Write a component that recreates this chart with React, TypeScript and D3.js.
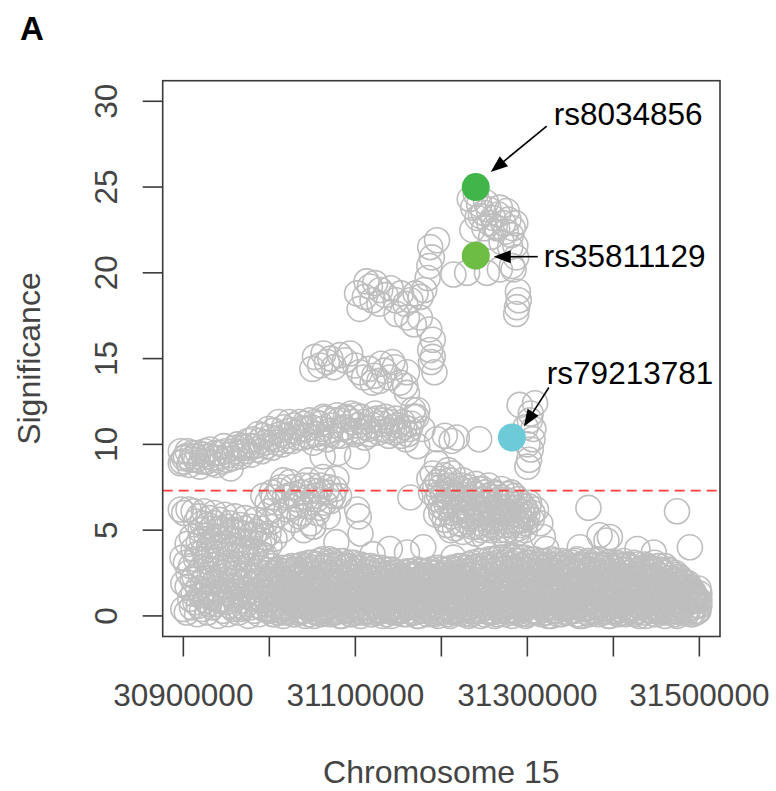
import React from "react";
import * as d3 from "d3";

// ---------- axis ticks ----------
const xTicks = [30900000, 31000000, 31100000, 31200000, 31300000, 31400000, 31500000];
const xTickLabels = ["30900000", "", "31100000", "", "31300000", "", "31500000"];
const yTicks = [0, 5, 10, 15, 20, 25, 30];
const yTickLabels = ["0", "5", "10", "15", "20", "25", "30"];
const thresholdSig = 7.3;
const xTitle = "Chromosome 15";
const yTitle = "Significance";
const panelLabel = "A";

// ---------- SNPs: [position (kb), significance] ----------
type SNP = [number, number];

const upperBandSNPs: SNP[] = [
  [30897, 9.6], [30897, 8.9], [30899, 9.0], [30903, 9.3], [30907, 8.8], [30911, 9.5], [30915, 9.1], [30919, 8.7],
  [30923, 9.4], [30927, 9.0], [30931, 9.7], [30935, 9.2], [30939, 8.8], [30943, 9.5], [30947, 9.9], [30951, 9.1],
  [30955, 8.6], [30959, 9.6], [30963, 10.0], [30967, 9.3], [30971, 9.8], [30975, 10.2], [30979, 9.4], [30983, 9.9],
  [30987, 10.6], [30991, 9.6], [30995, 10.1], [30999, 10.9], [31003, 9.8], [31007, 10.3], [31011, 11.3], [31015, 10.0],
  [31019, 10.5], [31023, 11.3], [31027, 10.2], [31031, 10.7], [31035, 11.3], [31039, 10.4], [31043, 10.9], [31047, 11.4],
  [31051, 10.1], [31055, 10.6], [31059, 11.2], [31063, 11.6], [31067, 10.3], [31071, 10.8], [31075, 11.4], [31079, 11.7],
  [31083, 10.5], [31087, 11.0], [31091, 11.5], [31095, 11.8], [31099, 10.6], [31103, 11.1], [31107, 11.6], [31111, 10.4],
  [31115, 10.9], [31119, 11.4], [31123, 11.8], [31127, 10.7], [31131, 11.2], [31135, 11.6], [31139, 10.5], [31143, 11.0],
  [31147, 11.5], [31151, 10.8], [31155, 11.3], [31159, 10.3], [31163, 10.9], [31167, 12.0], [31171, 11.6], [31178, 10.9],
  [31172, 9.9], [31062, 9.3], [31102, 9.3], [31080, 9.5],
];

const upperBand2SNPs: SNP[] = [
  [30901, 9.2], [30905, 9.6], [30909, 9.1], [30913, 9.3], [30917, 9.5], [30921, 9.0], [30925, 9.6], [30929, 9.3],
  [30933, 8.9], [30937, 9.5], [30941, 9.2], [30945, 9.0], [30949, 9.6], [30953, 9.4], [30957, 9.2], [30961, 9.8],
  [30965, 9.5], [30969, 9.9], [30973, 9.6], [30977, 9.9], [30981, 10.3], [30985, 9.7], [30989, 10.2], [30993, 10.5],
  [30997, 9.9], [31001, 10.4], [31005, 10.8], [31009, 10.1], [31013, 10.6], [31017, 11.0], [31021, 10.2], [31025, 10.8],
  [31029, 11.1], [31033, 10.4], [31037, 10.9], [31041, 11.2], [31045, 10.5], [31049, 11.0], [31053, 11.3], [31057, 10.4],
  [31061, 10.9], [31065, 11.5], [31069, 10.6], [31073, 11.1], [31077, 10.5], [31081, 11.4], [31085, 10.9], [31089, 11.6],
  [31093, 10.8], [31097, 11.3], [31101, 11.7], [31105, 10.8], [31109, 11.3], [31113, 11.0], [31117, 10.6], [31121, 11.1],
  [31125, 11.5], [31129, 10.9], [31133, 11.4], [31137, 10.8], [31141, 11.3], [31145, 10.7], [31149, 11.1], [31153, 10.5],
  [31157, 11.0], [31161, 10.6], [31165, 11.2],
];

const mid15SNPs: SNP[] = [
  [31053, 15.1], [31059, 14.6], [31063, 15.3], [31067, 14.8], [31071, 15.0], [31050, 14.4], [31075, 14.5], [31082, 15.2],
  [31088, 14.9], [31094, 15.3], [31100, 14.6], [31105, 14.2], [31110, 13.9], [31116, 14.4], [31122, 14.0], [31128, 13.7],
  [31134, 14.3], [31140, 13.9], [31146, 14.5], [31152, 13.6], [31158, 13.4], [31143, 14.8], [31130, 14.7], [31120, 13.6],
];

const columnSNPs: SNP[] = [
  [31187, 21.5], [31189, 20.9], [31186, 20.4], [31184, 19.7], [31180, 19.0], [31176, 18.6], [31170, 18.8], [31175, 17.4],
  [31186, 16.7], [31190, 16.1], [31187, 15.5], [31190, 15.1], [31188, 14.8], [31192, 14.2], [31160, 14.2], [31160, 13.0],
  [31172, 12.0], [31168, 11.6], [31195, 21.9],
];

const sClusterSNPs: SNP[] = [
  [31102, 18.8], [31105, 17.9], [31111, 18.6], [31117, 19.2], [31123, 19.4], [31129, 19.0], [31120, 18.4], [31135, 18.7],
  [31141, 19.1], [31147, 18.4], [31153, 18.8], [31158, 18.2], [31164, 18.4], [31113, 19.5], [31128, 18.2], [31148, 17.6],
  [31160, 17.4], [31168, 17.0],
];

const peakSNPs: SNP[] = [
  [31233, 24.3], [31237, 23.8], [31244, 24.0], [31249, 23.5], [31255, 23.7], [31260, 23.2], [31266, 23.4], [31272, 22.9],
  [31278, 23.1], [31283, 22.6], [31275, 22.4], [31265, 22.6], [31256, 22.9], [31246, 23.3], [31236, 22.5], [31258, 22.1],
  [31270, 21.8], [31280, 21.5], [31286, 21.6], [31287, 20.9], [31282, 20.4], [31289, 18.9], [31290, 18.4], [31288, 18.0],
  [31287, 17.6], [31214, 19.9], [31230, 20.0], [31253, 20.0], [31268, 20.2], [31284, 20.2], [31240, 24.6],
  [31242, 23.2], [31252, 24.1], [31262, 22.7], [31268, 23.8], [31276, 23.6], [31281, 22.2], [31250, 22.6], [31286, 22.9],
];

const mid10SNPs: SNP[] = [
  [31195, 10.3], [31204, 10.5], [31212, 10.2], [31218, 10.4], [31244, 10.3], [31195, 8.9], [31208, 8.5],
  [31291, 12.3], [31309, 12.4], [31304, 11.8], [31307, 10.9], [31303, 11.4], [31306, 10.3], [31304, 9.7], [31302, 9.1],
  [31300, 8.7], [31298, 11.0], [31300, 10.0],
];

const thresholdRightSNPs: SNP[] = [
  [31190, 8.3], [31196, 7.8], [31203, 8.2], [31210, 7.9], [31217, 7.6], [31225, 7.9], [31232, 7.5], [31240, 7.7],
  [31248, 7.4], [31255, 7.6], [31262, 7.2], [31270, 7.4], [31278, 7.1], [31285, 7.0], [31292, 6.6], [31188, 7.2],
  [31195, 6.8], [31202, 7.1], [31210, 6.6], [31218, 7.0], [31226, 6.4], [31234, 6.9], [31242, 6.3], [31250, 6.8],
  [31258, 6.2], [31266, 6.7], [31274, 6.1], [31282, 6.5], [31290, 5.9], [31298, 6.2], [31212, 5.8], [31220, 5.4],
  [31228, 5.9], [31236, 5.2], [31244, 5.7], [31252, 5.1], [31260, 5.6], [31268, 5.0], [31276, 5.5], [31284, 5.0],
  [31292, 5.3], [31200, 6.0], [31240, 4.8], [31272, 4.7], [31194, 5.9], [31310, 6.2], [31205, 7.3], [31215, 6.9],
  [31223, 7.4], [31231, 6.2], [31239, 7.1], [31246, 6.0], [31254, 7.0], [31262, 5.9], [31270, 6.9], [31278, 5.8],
  [31286, 6.3], [31294, 5.6], [31300, 5.9], [31207, 5.3], [31217, 6.2], [31229, 5.5], [31245, 5.4], [31257, 5.3],
  [31265, 6.4], [31281, 5.3], [31297, 5.0], [31305, 5.6], [31225, 4.9], [31250, 4.6], [31288, 4.8],
  [31199, 7.5], [31206, 6.5], [31213, 7.2], [31221, 6.1], [31227, 6.8], [31235, 7.3], [31241, 5.9], [31249, 6.5],
  [31256, 5.7], [31263, 6.9], [31271, 6.3], [31279, 6.7], [31287, 5.6], [31295, 6.4], [31302, 6.6], [31204, 5.6],
  [31216, 5.1], [31233, 5.7], [31247, 5.0], [31261, 5.2], [31276, 5.0], [31289, 5.5], [31208, 6.9], [31222, 7.1],
  [31237, 6.6], [31253, 6.0], [31268, 6.1], [31283, 5.9], [31298, 5.4], [31193, 7.6], [31200, 8.0], [31213, 8.3],
  [31186, 8.0],
  [31197, 7.1], [31203, 6.3], [31209, 7.6], [31214, 6.0], [31219, 6.6], [31224, 7.6], [31230, 6.9], [31234, 5.8],
  [31238, 6.4], [31243, 7.4], [31247, 6.2], [31251, 7.2], [31255, 6.5], [31259, 5.5], [31264, 7.1], [31267, 5.7],
  [31273, 6.6], [31277, 6.0], [31281, 7.2], [31285, 5.5], [31289, 6.8], [31293, 6.1], [31296, 5.8], [31301, 6.4],
  [31306, 6.0], [31226, 5.3], [31242, 5.2], [31258, 5.0], [31274, 5.3], [31290, 5.1], [31211, 5.0], [31199, 6.4],
];

const thresholdLeftSNPs: SNP[] = [
  [31003, 7.2], [31008, 6.6], [31013, 7.5], [31018, 6.9], [31024, 7.8], [31029, 7.1], [31034, 6.5], [31039, 7.6],
  [31045, 7.9], [31050, 7.3], [31055, 6.8], [31060, 7.6], [31066, 7.2], [31071, 6.7], [31076, 7.4], [31081, 7.0],
  [31010, 5.9], [31020, 6.2], [31028, 5.6], [31038, 6.0], [31048, 5.4], [31058, 6.3], [31068, 5.8], [31000, 6.1],
  [30993, 7.0], [31015, 5.0], [31040, 5.0], [31051, 5.2], [31078, 8.0], [31062, 8.1],
  [31005, 6.9], [31011, 7.3], [31016, 7.9], [31022, 7.0], [31027, 7.5], [31032, 6.8], [31037, 7.2], [31043, 6.9],
  [31048, 7.6], [31053, 7.0], [31058, 7.3], [31064, 6.6], [31069, 7.5], [31074, 7.0], [30998, 6.6], [31003, 5.5],
  [31025, 6.4], [31035, 5.8], [31045, 6.4], [31056, 6.0],
];

const leftLowSNPs: SNP[] = [
  [30897, 6.2], [30901, 6.0], [30906, 6.2], [30912, 6.1], [30918, 5.8], [30924, 6.1], [30930, 5.7], [30936, 6.0],
  [30942, 5.6], [30948, 5.9], [30954, 5.4], [30960, 5.8], [30966, 5.3], [30972, 5.7], [30978, 5.2], [30984, 5.6],
  [30990, 5.1], [30996, 5.5],
  [30920, 5.0], [30927, 4.7], [30933, 5.1], [30940, 4.6], [30946, 5.0], [30952, 4.5], [30958, 4.9], [30964, 4.4],
  [30970, 4.8], [30976, 4.3], [30982, 4.7], [30988, 4.2], [30994, 4.6], [31000, 4.1], [31006, 4.5],
  [30905, 4.2], [30912, 3.9], [30918, 4.3], [30924, 3.8], [30930, 4.1], [30936, 3.6], [30942, 4.0], [30948, 3.5],
  [30955, 3.9], [30961, 3.4], [30967, 3.8], [30973, 3.3], [30979, 3.7], [30985, 3.2], [30991, 3.6], [30997, 3.1],
  [30899, 3.4], [30903, 3.1], [30909, 2.9], [30915, 3.3], [30921, 2.8], [30927, 3.2], [30933, 2.7], [30939, 3.0],
  [30945, 2.5], [30951, 2.9], [30957, 2.4], [30963, 2.8], [30969, 2.3], [30975, 2.7], [30981, 2.2], [30987, 2.6],
  [30993, 2.1], [30999, 2.5],
  [30900, 1.9], [30905, 1.7], [30911, 2.1], [30917, 1.6], [30923, 2.0], [30929, 1.5], [30935, 1.9], [30941, 1.4],
  [30947, 1.8], [30953, 1.3], [30959, 1.7], [30965, 1.2], [30971, 1.6], [30977, 1.1], [30983, 1.5], [30989, 1.0],
  [30995, 1.4],
  [30908, 1.0], [30914, 0.8], [30920, 1.2], [30926, 0.9], [30932, 1.1], [30938, 0.7], [30944, 1.0], [30950, 0.8],
  [30956, 1.2], [30962, 0.6], [30968, 0.9], [30974, 0.7], [30980, 1.1], [30986, 0.6], [30992, 0.9], [30998, 0.7],
  [30900, 0.4], [30904, 0.2], [30910, 0.5], [30916, 0.1], [30922, 0.4], [30928, 0.2], [30934, 0.5], [30940, 0.0],
  [30946, 0.3], [30952, 0.1], [30958, 0.4], [30964, 0.2], [30970, 0.5], [30976, 0.0], [30982, 0.3], [30988, 0.1],
  [30994, 0.4],
];

const leftLow2SNPs: SNP[] = [
  [30915, 5.5], [30922, 5.4], [30929, 5.3], [30936, 5.4], [30943, 5.1], [30950, 5.2], [30957, 5.0], [30964, 4.9],
  [30971, 5.1], [30978, 4.7], [30985, 4.9], [30992, 4.4], [30999, 4.8],
  [30910, 4.6], [30916, 3.6], [30922, 4.5], [30928, 3.5], [30935, 4.4], [30941, 3.3], [30947, 4.2], [30953, 3.1],
  [30959, 4.1], [30965, 3.0], [30971, 3.9], [30977, 2.9], [30983, 3.8], [30989, 2.8], [30995, 3.5],
  [30906, 2.5], [30913, 2.3], [30919, 2.6], [30925, 2.2], [30931, 2.4], [30937, 2.0], [30943, 2.3], [30949, 2.1],
  [30955, 2.0], [30961, 2.2], [30967, 1.9], [30973, 2.0], [30979, 1.8], [30985, 1.9], [30991, 1.7], [30997, 1.9],
  [30912, 1.3], [30918, 0.6], [30924, 1.4], [30930, 0.7], [30936, 1.3], [30942, 0.9], [30948, 1.4], [30954, 0.6],
  [30960, 1.0], [30966, 0.4], [30972, 1.2], [30978, 0.5], [30984, 1.0], [30990, 0.5], [30996, 1.1],
];

const strayLowSNPs: SNP[] = [
  [31078, 4.3], [31102, 6.2], [31104, 5.8], [31106, 4.8], [31140, 3.9], [31164, 6.9], [31179, 4.0], [31214, 3.4],
  [31322, 3.9], [31361, 4.0], [31371, 6.3], [31384, 4.7], [31392, 4.4], [31396, 4.6], [31428, 3.9], [31447, 3.7],
  [31474, 6.1], [31489, 4.0], [31315, 5.4], [31318, 4.6], [31051, 5.2], [31120, 3.6], [31160, 3.7],
];

const baseRowA: SNP[] = [
  [31000, 0.3], [31006, 0.1], [31012, 0.4], [31018, 0.2], [31024, 0.5], [31030, 0.1], [31036, 0.3], [31042, 0.0],
  [31048, 0.4], [31054, 0.2], [31060, 0.1], [31066, 0.5], [31072, 0.2], [31078, 0.3], [31084, 0.0], [31090, 0.4],
  [31096, 0.1], [31102, 0.3], [31108, 0.2], [31114, 0.5], [31120, 0.1], [31126, 0.3], [31132, 0.0], [31138, 0.4],
  [31144, 0.2], [31150, 0.3], [31156, 0.1], [31162, 0.5], [31168, 0.2], [31174, 0.0], [31180, 0.3], [31186, 0.4],
  [31192, 0.1], [31198, 0.2], [31204, 0.5], [31210, 0.0], [31216, 0.3], [31222, 0.2], [31228, 0.4], [31234, 0.1],
  [31240, 0.3], [31246, 0.0], [31252, 0.5], [31258, 0.2], [31264, 0.1], [31270, 0.4], [31276, 0.3], [31282, 0.0],
  [31288, 0.2], [31294, 0.5], [31300, 0.1], [31306, 0.3], [31312, 0.2], [31318, 0.4], [31324, 0.0], [31330, 0.3],
  [31336, 0.1], [31342, 0.5], [31348, 0.2], [31354, 0.3], [31360, 0.0], [31366, 0.4], [31372, 0.1], [31378, 0.2],
  [31384, 0.5], [31390, 0.3], [31396, 0.0], [31402, 0.2], [31408, 0.4], [31414, 0.1], [31420, 0.3], [31426, 0.2],
  [31432, 0.5], [31438, 0.0], [31444, 0.3], [31450, 0.1], [31456, 0.4], [31462, 0.2], [31468, 0.3], [31474, 0.0],
  [31480, 0.5], [31486, 0.2], [31492, 0.1], [31498, 0.3], [31500, 0.6],
];

const baseRowB: SNP[] = [
  [31003, 1.0], [31009, 0.8], [31015, 1.3], [31021, 0.9], [31027, 1.2], [31033, 0.7], [31039, 1.1], [31045, 1.4],
  [31051, 0.9], [31057, 1.2], [31063, 0.8], [31069, 1.3], [31075, 1.0], [31081, 0.7], [31087, 1.2], [31093, 1.4],
  [31099, 0.9], [31105, 1.1], [31111, 0.8], [31117, 1.3], [31123, 1.0], [31129, 0.7], [31135, 1.2], [31141, 0.9],
  [31147, 1.4], [31153, 1.0], [31159, 0.8], [31165, 1.2], [31171, 1.1], [31177, 0.7], [31183, 1.3], [31189, 0.9],
  [31195, 1.2], [31201, 0.8], [31207, 1.0], [31213, 1.4], [31219, 0.9], [31225, 1.1], [31231, 0.7], [31237, 1.3],
  [31243, 1.0], [31249, 1.2], [31255, 0.8], [31261, 1.4], [31267, 0.9], [31273, 1.1], [31279, 1.3], [31285, 0.8],
  [31291, 1.0], [31297, 1.2], [31303, 0.7], [31309, 1.3], [31315, 1.0], [31321, 0.9], [31327, 1.4], [31333, 1.1],
  [31339, 0.8], [31345, 1.2], [31351, 1.0], [31357, 1.3], [31363, 0.7], [31369, 1.1], [31375, 0.9], [31381, 1.4],
  [31387, 1.0], [31393, 1.2], [31399, 0.8], [31405, 1.3], [31411, 1.0], [31417, 0.9], [31423, 1.2], [31429, 1.4],
  [31435, 0.8], [31441, 1.1], [31447, 1.0], [31453, 1.3], [31459, 0.7], [31465, 1.2], [31471, 0.9], [31477, 1.1],
  [31483, 1.3], [31489, 0.8], [31495, 1.0], [31500, 1.3],
];

const baseRowC: SNP[] = [
  [31001, 1.8], [31007, 2.1], [31013, 1.6], [31019, 2.0], [31025, 1.7], [31031, 2.2], [31037, 1.9], [31043, 1.6],
  [31049, 2.1], [31055, 1.8], [31061, 2.3], [31067, 1.7], [31073, 2.0], [31079, 1.9], [31085, 2.2], [31091, 1.6],
  [31097, 2.0], [31103, 1.8], [31109, 2.1], [31115, 1.7], [31121, 1.9], [31127, 2.2], [31133, 1.6], [31139, 2.0],
  [31145, 1.8], [31151, 1.7], [31157, 2.1], [31163, 1.9], [31169, 1.6], [31175, 2.0], [31181, 1.8], [31187, 2.2],
  [31193, 1.7], [31199, 1.9], [31205, 2.1], [31211, 1.6], [31217, 2.0], [31223, 1.8], [31229, 2.2], [31235, 1.9],
  [31241, 1.7], [31247, 2.1], [31253, 1.8], [31259, 2.3], [31265, 1.6], [31271, 2.0], [31277, 1.9], [31283, 2.2],
  [31289, 1.7], [31295, 2.1], [31301, 1.8], [31307, 2.0], [31313, 1.6], [31319, 2.2], [31325, 1.9], [31331, 1.7],
  [31337, 2.1], [31343, 1.8], [31349, 2.3], [31355, 1.6], [31361, 2.0], [31367, 1.9], [31373, 2.2], [31379, 1.7],
  [31385, 2.1], [31391, 1.8], [31397, 2.0], [31403, 1.6], [31409, 2.2], [31415, 1.9], [31421, 1.7], [31427, 2.1],
  [31433, 1.8], [31439, 2.0], [31445, 1.6], [31451, 2.2], [31457, 1.9], [31463, 1.7], [31469, 2.0], [31475, 1.8],
  [31481, 1.6], [31487, 1.9], [31493, 1.4], [31499, 1.6],
];

const baseRowD: SNP[] = [
  [31004, 2.5], [31010, 2.7], [31016, 2.4], [31022, 2.8], [31028, 2.6], [31034, 2.9], [31040, 2.7], [31046, 3.1],
  [31052, 2.8], [31058, 3.2], [31064, 2.9], [31070, 3.3], [31076, 3.0], [31082, 3.2], [31088, 2.9], [31094, 3.1],
  [31100, 2.8], [31106, 3.0], [31112, 2.6], [31118, 2.9], [31124, 2.5], [31130, 2.8], [31136, 2.4], [31142, 2.7],
  [31148, 2.5], [31154, 2.3], [31160, 2.6], [31166, 2.4], [31172, 2.7], [31178, 2.3], [31184, 2.6], [31190, 2.5],
  [31196, 2.8], [31202, 2.4], [31208, 2.7], [31214, 2.5], [31220, 2.9], [31226, 2.6], [31232, 3.0], [31238, 2.8],
  [31244, 3.2], [31250, 2.9], [31256, 3.3], [31262, 3.0], [31268, 3.4], [31274, 3.1], [31280, 3.5], [31286, 3.2],
  [31292, 3.4], [31298, 3.1], [31304, 3.3], [31310, 3.0], [31316, 3.2], [31322, 2.9], [31328, 3.3], [31334, 3.0],
  [31340, 3.2], [31346, 2.8], [31352, 3.1], [31358, 3.3], [31364, 2.9], [31370, 3.2], [31376, 3.0], [31382, 3.3],
  [31388, 2.9], [31394, 3.1], [31400, 2.8], [31406, 3.0], [31412, 3.2], [31418, 2.9], [31424, 3.1], [31430, 2.7],
  [31436, 3.0], [31442, 2.8], [31448, 3.1], [31454, 2.7], [31460, 2.9], [31466, 2.6], [31472, 2.5], [31478, 2.2],
  [31484, 1.9], [31490, 1.6], [31496, 1.1],
];

const baseRowE: SNP[] = [
  [31005, 0.6], [31011, 0.8], [31017, 0.5], [31023, 0.9], [31029, 0.7], [31035, 0.6], [31041, 0.9], [31047, 0.5],
  [31053, 0.8], [31059, 0.7], [31065, 0.9], [31071, 0.6], [31077, 0.8], [31083, 0.5], [31089, 0.7], [31095, 0.9],
  [31101, 0.6], [31107, 0.8], [31113, 0.5], [31119, 0.7], [31125, 0.8], [31131, 0.6], [31137, 0.9], [31143, 0.5],
  [31149, 0.7], [31155, 0.8], [31161, 0.6], [31167, 0.9], [31173, 0.5], [31179, 0.8], [31185, 0.7], [31191, 0.6],
  [31197, 0.9], [31203, 0.5], [31209, 0.8], [31215, 0.7], [31221, 0.6], [31227, 0.9], [31233, 0.5], [31239, 0.8],
  [31245, 0.7], [31251, 0.9], [31257, 0.6], [31263, 0.8], [31269, 0.5], [31275, 0.7], [31281, 0.9], [31287, 0.6],
  [31293, 0.8], [31299, 0.5], [31305, 0.7], [31311, 0.9], [31317, 0.6], [31323, 0.8], [31329, 0.5], [31335, 0.7],
  [31341, 0.9], [31347, 0.6], [31353, 0.8], [31359, 0.5], [31365, 0.7], [31371, 0.9], [31377, 0.6], [31383, 0.8],
  [31389, 0.5], [31395, 0.7], [31401, 0.9], [31407, 0.6], [31413, 0.8], [31419, 0.5], [31425, 0.7], [31431, 0.9],
  [31437, 0.6], [31443, 0.8], [31449, 0.5], [31455, 0.7], [31461, 0.9], [31467, 0.6], [31473, 0.8], [31479, 0.5],
  [31485, 0.7], [31491, 0.9], [31497, 0.6],
];

const baseRowF: SNP[] = [
  [31002, 1.5], [31008, 1.3], [31014, 1.7], [31020, 1.4], [31026, 1.6], [31032, 1.8], [31038, 1.3], [31044, 1.5],
  [31050, 1.7], [31056, 1.4], [31062, 1.6], [31068, 1.3], [31074, 1.8], [31080, 1.5], [31086, 1.4], [31092, 1.7],
  [31098, 1.3], [31104, 1.6], [31110, 1.5], [31116, 1.8], [31122, 1.4], [31128, 1.6], [31134, 1.3], [31140, 1.7],
  [31146, 1.5], [31152, 1.4], [31158, 1.6], [31164, 1.3], [31170, 1.8], [31176, 1.5], [31182, 1.4], [31188, 1.7],
  [31194, 1.3], [31200, 1.6], [31206, 1.5], [31212, 1.8], [31218, 1.4], [31224, 1.6], [31230, 1.3], [31236, 1.7],
  [31242, 1.5], [31248, 1.4], [31254, 1.6], [31260, 1.3], [31266, 1.8], [31272, 1.5], [31278, 1.4], [31284, 1.7],
  [31290, 1.3], [31296, 1.6], [31302, 1.5], [31308, 1.8], [31314, 1.4], [31320, 1.6], [31326, 1.3], [31332, 1.7],
  [31338, 1.5], [31344, 1.4], [31350, 1.6], [31356, 1.3], [31362, 1.8], [31368, 1.5], [31374, 1.4], [31380, 1.7],
  [31386, 1.3], [31392, 1.6], [31398, 1.5], [31404, 1.8], [31410, 1.4], [31416, 1.6], [31422, 1.3], [31428, 1.7],
  [31434, 1.5], [31440, 1.4], [31446, 1.6], [31452, 1.3], [31458, 1.8], [31464, 1.5], [31470, 1.4], [31476, 1.6],
  [31482, 1.3], [31488, 1.5], [31494, 1.2], [31500, 0.9],
];

const baseRowG: SNP[] = [
  [31003, 2.3], [31009, 2.5], [31015, 2.2], [31021, 2.4], [31027, 2.6], [31033, 2.3], [31039, 2.5], [31045, 2.7],
  [31051, 2.4], [31057, 2.6], [31063, 2.8], [31069, 2.5], [31075, 2.7], [31081, 2.6], [31087, 2.8], [31093, 2.5],
  [31099, 2.6], [31105, 2.4], [31111, 2.3], [31117, 2.5], [31123, 2.2], [31129, 2.4], [31135, 2.2], [31141, 2.3],
  [31147, 2.1], [31153, 2.2], [31159, 2.0], [31165, 2.3], [31171, 2.1], [31177, 2.2], [31183, 2.0], [31189, 2.3],
  [31195, 2.2], [31201, 2.4], [31207, 2.1], [31213, 2.3], [31219, 2.5], [31225, 2.2], [31231, 2.6], [31237, 2.4],
  [31243, 2.7], [31249, 2.5], [31255, 2.8], [31261, 2.6], [31267, 2.9], [31273, 2.7], [31279, 3.0], [31285, 2.8],
  [31291, 2.9], [31297, 2.7], [31303, 2.9], [31309, 2.6], [31315, 2.8], [31321, 2.5], [31327, 2.7], [31333, 2.6],
  [31339, 2.8], [31345, 2.5], [31351, 2.7], [31357, 2.6], [31363, 2.8], [31369, 2.5], [31375, 2.7], [31381, 2.6],
  [31387, 2.8], [31393, 2.5], [31399, 2.6], [31405, 2.4], [31411, 2.7], [31417, 2.5], [31423, 2.6], [31429, 2.4],
  [31435, 2.5], [31441, 2.3], [31447, 2.6], [31453, 2.4], [31459, 2.5], [31465, 2.2], [31471, 2.1], [31477, 1.9],
  [31483, 1.7], [31489, 1.4], [31495, 0.9],
];

const baseRowH: SNP[] = [
  [31004, 0.1], [31010, 0.2], [31016, 0.0], [31022, 0.3], [31028, 0.1], [31034, 0.2], [31040, 0.3], [31046, 0.1],
  [31052, 0.0], [31058, 0.2], [31064, 0.3], [31070, 0.1], [31076, 0.2], [31082, 0.0], [31088, 0.3], [31094, 0.1],
  [31100, 0.2], [31106, 0.0], [31112, 0.3], [31118, 0.1], [31124, 0.2], [31130, 0.3], [31136, 0.1], [31142, 0.0],
  [31148, 0.2], [31154, 0.3], [31160, 0.1], [31166, 0.2], [31172, 0.0], [31178, 0.3], [31184, 0.1], [31190, 0.2],
  [31196, 0.0], [31202, 0.3], [31208, 0.1], [31214, 0.2], [31220, 0.3], [31226, 0.1], [31232, 0.0], [31238, 0.2],
  [31244, 0.3], [31250, 0.1], [31256, 0.2], [31262, 0.0], [31268, 0.3], [31274, 0.1], [31280, 0.2], [31286, 0.3],
  [31292, 0.1], [31298, 0.0], [31304, 0.2], [31310, 0.3], [31316, 0.1], [31322, 0.2], [31328, 0.0], [31334, 0.3],
  [31340, 0.1], [31346, 0.2], [31352, 0.3], [31358, 0.1], [31364, 0.0], [31370, 0.2], [31376, 0.3], [31382, 0.1],
  [31388, 0.2], [31394, 0.0], [31400, 0.3], [31406, 0.1], [31412, 0.2], [31418, 0.3], [31424, 0.1], [31430, 0.0],
  [31436, 0.2], [31442, 0.3], [31448, 0.1], [31454, 0.2], [31460, 0.0], [31466, 0.3], [31472, 0.1], [31478, 0.2],
  [31484, 0.3], [31490, 0.1], [31496, 0.2],
];

const baseRowI: SNP[] = [
  [31001, 0.4], [31007, 0.6], [31013, 0.3], [31019, 0.5], [31025, 0.4], [31031, 0.6], [31037, 0.3], [31043, 0.5],
  [31049, 0.6], [31055, 0.4], [31061, 0.3], [31067, 0.5], [31073, 0.6], [31079, 0.4], [31085, 0.5], [31091, 0.3],
  [31097, 0.6], [31103, 0.4], [31109, 0.5], [31115, 0.3], [31121, 0.6], [31127, 0.4], [31133, 0.5], [31139, 0.3],
  [31145, 0.6], [31151, 0.4], [31157, 0.5], [31163, 0.3], [31169, 0.6], [31175, 0.4], [31181, 0.5], [31187, 0.3],
  [31193, 0.6], [31199, 0.4], [31205, 0.5], [31211, 0.3], [31217, 0.6], [31223, 0.4], [31229, 0.5], [31235, 0.3],
  [31241, 0.6], [31247, 0.4], [31253, 0.5], [31259, 0.3], [31265, 0.6], [31271, 0.4], [31277, 0.5], [31283, 0.3],
  [31289, 0.6], [31295, 0.4], [31301, 0.5], [31307, 0.3], [31313, 0.6], [31319, 0.4], [31325, 0.5], [31331, 0.3],
  [31337, 0.6], [31343, 0.4], [31349, 0.5], [31355, 0.3], [31361, 0.6], [31367, 0.4], [31373, 0.5], [31379, 0.3],
  [31385, 0.6], [31391, 0.4], [31397, 0.5], [31403, 0.3], [31409, 0.6], [31415, 0.4], [31421, 0.5], [31427, 0.3],
  [31433, 0.6], [31439, 0.4], [31445, 0.5], [31451, 0.3], [31457, 0.6], [31463, 0.4], [31469, 0.5], [31475, 0.3],
  [31481, 0.6], [31487, 0.4], [31493, 0.5], [31499, 0.3],
];

const baseRowJ: SNP[] = [
  [31005, 1.1], [31011, 1.2], [31017, 1.0], [31023, 1.3], [31029, 1.1], [31035, 1.2], [31041, 1.0], [31047, 1.3],
  [31053, 1.2], [31059, 1.0], [31065, 1.1], [31071, 1.3], [31077, 1.2], [31083, 1.0], [31089, 1.1], [31095, 1.2],
  [31101, 1.3], [31107, 1.0], [31113, 1.2], [31119, 1.1], [31125, 1.3], [31131, 1.0], [31137, 1.2], [31143, 1.1],
  [31149, 1.0], [31155, 1.3], [31161, 1.1], [31167, 1.2], [31173, 1.0], [31179, 1.3], [31185, 1.1], [31191, 1.2],
  [31197, 1.0], [31203, 1.3], [31209, 1.1], [31215, 1.2], [31221, 1.0], [31227, 1.3], [31233, 1.1], [31239, 1.2],
  [31245, 1.0], [31251, 1.3], [31257, 1.1], [31263, 1.2], [31269, 1.0], [31275, 1.3], [31281, 1.1], [31287, 1.2],
  [31293, 1.0], [31299, 1.3], [31305, 1.1], [31311, 1.2], [31317, 1.0], [31323, 1.3], [31329, 1.1], [31335, 1.2],
  [31341, 1.0], [31347, 1.3], [31353, 1.1], [31359, 1.2], [31365, 1.0], [31371, 1.3], [31377, 1.1], [31383, 1.2],
  [31389, 1.0], [31395, 1.3], [31401, 1.1], [31407, 1.2], [31413, 1.0], [31419, 1.3], [31425, 1.1], [31431, 1.2],
  [31437, 1.0], [31443, 1.3], [31449, 1.1], [31455, 1.2], [31461, 1.0], [31467, 1.3], [31473, 1.1], [31479, 1.2],
  [31485, 1.0], [31491, 1.1], [31497, 0.9],
];

const baseRowK: SNP[] = [
  [31000, 2.0], [31006, 1.9], [31012, 2.2], [31018, 2.1], [31024, 1.9], [31030, 2.3], [31036, 2.1], [31042, 2.4],
  [31048, 2.2], [31054, 2.5], [31060, 2.1], [31066, 2.4], [31072, 2.2], [31078, 2.5], [31084, 2.3], [31090, 2.4],
  [31096, 2.2], [31102, 2.3], [31108, 2.0], [31114, 2.2], [31120, 1.9], [31126, 2.1], [31132, 1.9], [31138, 2.0],
  [31144, 1.8], [31150, 2.0], [31156, 1.8], [31162, 2.0], [31168, 1.9], [31174, 1.8], [31180, 2.0], [31186, 1.9],
  [31192, 2.1], [31198, 1.9], [31204, 2.2], [31210, 2.0], [31216, 2.3], [31222, 2.1], [31228, 2.4], [31234, 2.2],
  [31240, 2.5], [31246, 2.3], [31252, 2.6], [31258, 2.4], [31264, 2.7], [31270, 2.5], [31276, 2.8], [31282, 2.6],
  [31288, 2.7], [31294, 2.5], [31300, 2.7], [31306, 2.4], [31312, 2.6], [31318, 2.4], [31324, 2.6], [31330, 2.3],
  [31336, 2.5], [31342, 2.3], [31348, 2.6], [31354, 2.4], [31360, 2.5], [31366, 2.3], [31372, 2.6], [31378, 2.4],
  [31384, 2.5], [31390, 2.3], [31396, 2.5], [31402, 2.2], [31408, 2.4], [31414, 2.3], [31420, 2.5], [31426, 2.2],
  [31432, 2.4], [31438, 2.2], [31444, 2.3], [31450, 2.1], [31456, 2.3], [31462, 2.0], [31468, 2.2], [31474, 1.8],
  [31480, 1.6], [31486, 1.4], [31492, 1.2], [31498, 0.9],
];

const baseRowL: SNP[] = [
  [31002, 2.9], [31008, 2.6], [31014, 2.8], [31020, 2.6], [31026, 2.9], [31032, 2.7], [31038, 3.0], [31044, 2.9],
  [31050, 3.1], [31056, 3.0], [31062, 3.3], [31068, 3.1], [31074, 3.2], [31080, 3.0], [31086, 3.2], [31092, 2.9],
  [31098, 3.1], [31104, 2.8], [31110, 2.9], [31116, 2.7], [31122, 2.8], [31128, 2.6], [31134, 2.7], [31140, 2.5],
  [31146, 2.6], [31152, 2.4], [31158, 2.5], [31164, 2.6], [31170, 2.4], [31176, 2.6], [31182, 2.4], [31188, 2.7],
  [31194, 2.5], [31200, 2.7], [31206, 2.5], [31212, 2.8], [31218, 2.7], [31224, 2.9], [31230, 2.8], [31236, 3.1],
  [31242, 2.9], [31248, 3.2], [31254, 3.0], [31260, 3.3], [31266, 3.1], [31272, 3.4], [31278, 3.2], [31284, 3.5],
  [31290, 3.2], [31296, 3.4], [31302, 3.1], [31308, 3.3], [31314, 3.0], [31320, 3.2], [31326, 3.0], [31332, 3.2],
  [31338, 2.9], [31344, 3.1], [31350, 2.9], [31356, 3.2], [31362, 3.0], [31368, 3.1], [31374, 2.9], [31380, 3.2],
  [31386, 3.0], [31392, 3.1], [31398, 2.9], [31404, 3.1], [31410, 2.9], [31416, 3.0], [31422, 2.8], [31428, 3.0],
  [31434, 2.8], [31440, 2.9], [31446, 2.7], [31452, 2.9], [31458, 2.6], [31464, 2.7], [31470, 2.4], [31476, 2.3],
  [31482, 2.0], [31488, 1.7], [31494, 1.3],
];

const greySNPs: SNP[] = [
  ...leftLowSNPs, ...leftLow2SNPs, ...baseRowA, ...baseRowH, ...baseRowI, ...baseRowE, ...baseRowB, ...baseRowJ,
  ...baseRowF, ...baseRowC, ...baseRowK, ...baseRowG, ...baseRowD, ...baseRowL, ...strayLowSNPs,
  ...thresholdLeftSNPs, ...thresholdRightSNPs, ...upperBandSNPs, ...upperBand2SNPs, ...mid15SNPs, ...sClusterSNPs,
  ...columnSNPs, ...mid10SNPs, ...peakSNPs,
];

// highlighted SNPs
const highlightIds = ["rs8034856", "rs35811129", "rs79213781"];
const highlightPos = [31240, 31240, 31282];
const highlightSig = [25.0, 21.0, 10.4];

// ---------- styles / layout ----------
const highlightColor: Record<string, string> = {
  rs8034856: "#3fb54a",
  rs35811129: "#6dbd45",
  rs79213781: "#6ccbd7",
};
// arrow tip, arrow tail and label anchor offsets from the point (px)
const labelLayout: Record<string, { tip: [number, number]; tail: [number, number]; text: [number, number] }> = {
  rs8034856: { tip: [15, -15], tail: [71, -61], text: [78, -73] },
  rs35811129: { tip: [18, 1], tail: [62, 1], text: [68, 0] },
  rs79213781: { tip: [12, -11], tail: [37, -50], text: [35, -65] },
};

const W = 776;
const H = 791;
const plot = { left: 162.7, right: 720, top: 80.7, bottom: 636.5 };
const axisColor = "#3a3a3a";
const textColor = "#444444";
const font = "'Liberation Sans', Arial, Helvetica, sans-serif";

function Arrow({ x1, y1, x2, y2 }: { x1: number; y1: number; x2: number; y2: number }) {
  const dx = x2 - x1;
  const dy = y2 - y1;
  const len = Math.hypot(dx, dy);
  const ux = dx / len;
  const uy = dy / len;
  const headLen = 17;
  const headHalf = 6.5;
  const bx = x2 - ux * headLen;
  const by = y2 - uy * headLen;
  const px = -uy;
  const py = ux;
  const pts = [
    [x2, y2],
    [bx + px * headHalf, by + py * headHalf],
    [bx - px * headHalf, by - py * headHalf],
  ]
    .map((p) => p.join(","))
    .join(" ");
  return (
    <g>
      <line x1={x1} y1={y1} x2={bx + ux * 2} y2={by + uy * 2} stroke="#000" strokeWidth={1.6} />
      <polygon points={pts} fill="#000" />
    </g>
  );
}

export default function App() {
  const x = d3.scaleLinear().domain([30876000, 31524000]).range([plot.left, plot.right]);
  const y = d3.scaleLinear().domain([-1.2, 31.2]).range([plot.bottom, plot.top]);
  const kb = (v: number) => v * 1000;

  return (
    <svg
      width={W}
      height={H}
      viewBox={`0 0 ${W} ${H}`}
      style={{ position: "absolute", left: 0, top: 0, background: "#fff" }}
      fontFamily={font}
    >
      <rect x={0} y={0} width={W} height={H} fill="#fff" />
      <text x={20} y={40} fontSize={33} fontWeight="bold" fill="#000">
        {panelLabel}
      </text>

      {/* grey SNPs */}
      <g fill="none" stroke="#bebebe" strokeWidth={1.6}>
        {greySNPs.map((d, i) => (
          <circle key={i} cx={x(kb(d[0]))} cy={y(d[1])} r={12.5} />
        ))}
      </g>

      {/* threshold */}
      <line
        x1={plot.left}
        x2={plot.right}
        y1={y(thresholdSig)}
        y2={y(thresholdSig)}
        stroke="#ff3b3b"
        strokeWidth={1.8}
        strokeDasharray="10,6"
      />

      {/* highlighted SNPs */}
      {highlightIds.map((id, i) => (
        <circle key={id} cx={x(kb(highlightPos[i]))} cy={y(highlightSig[i])} r={14} fill={highlightColor[id]} />
      ))}

      {/* annotations */}
      {highlightIds.map((id, i) => {
        const cx = x(kb(highlightPos[i]));
        const cy = y(highlightSig[i]);
        const L = labelLayout[id];
        return (
          <g key={id + "-lab"}>
            <Arrow x1={cx + L.tail[0]} y1={cy + L.tail[1]} x2={cx + L.tip[0]} y2={cy + L.tip[1]} />
            <text
              x={cx + L.text[0]}
              y={cy + L.text[1]}
              fontSize={31.5}
              fill="#000"
              dominantBaseline="central"
            >
              {id}
            </text>
          </g>
        );
      })}

      {/* box */}
      <rect
        x={plot.left}
        y={plot.top}
        width={plot.right - plot.left}
        height={plot.bottom - plot.top}
        fill="none"
        stroke={axisColor}
        strokeWidth={1.6}
      />

      {/* x axis */}
      <g>
        {xTicks.map((t, i) => (
          <g key={t}>
            <line x1={x(t)} x2={x(t)} y1={plot.bottom} y2={plot.bottom + 20} stroke={axisColor} strokeWidth={1.6} />
            {xTickLabels[i] && (
              <text x={x(t)} y={706} textAnchor="middle" fontSize={31.5} fill={textColor}>
                {xTickLabels[i]}
              </text>
            )}
          </g>
        ))}
      </g>

      {/* y axis */}
      <g>
        {yTicks.map((t, i) => (
          <g key={t}>
            <line x1={plot.left - 20} x2={plot.left} y1={y(t)} y2={y(t)} stroke={axisColor} strokeWidth={1.6} />
            <text
              transform={`translate(116.5, ${y(t)}) rotate(-90)`}
              textAnchor="middle"
              fontSize={31.5}
              fill={textColor}
            >
              {yTickLabels[i]}
            </text>
          </g>
        ))}
      </g>

      <text x={(plot.left + plot.right) / 2} y={783} textAnchor="middle" fontSize={32} fill={textColor}>
        {xTitle}
      </text>
      <text
        transform={`translate(40, ${(plot.top + plot.bottom) / 2}) rotate(-90)`}
        textAnchor="middle"
        fontSize={32}
        fill={textColor}
      >
        {yTitle}
      </text>
    </svg>
  );
}
